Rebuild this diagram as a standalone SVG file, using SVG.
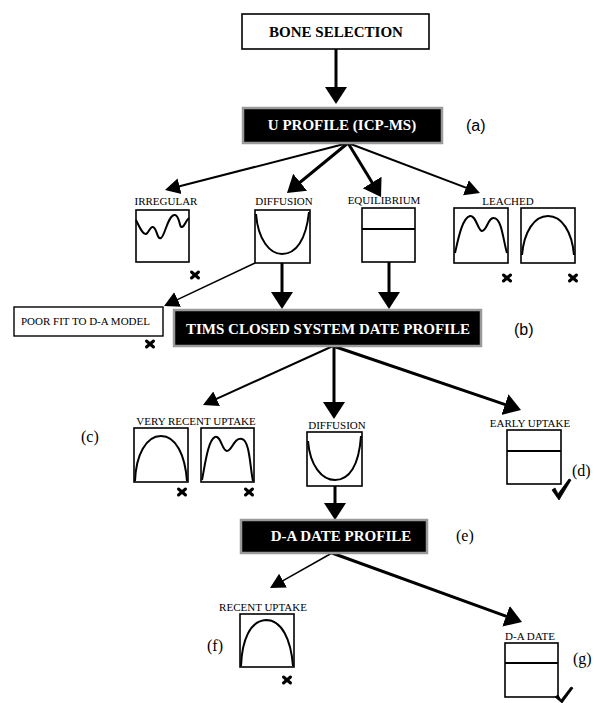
<svg xmlns="http://www.w3.org/2000/svg" width="594" height="703" viewBox="0 0 594 703">
<defs>
<marker id="big" markerUnits="userSpaceOnUse" markerWidth="18" markerHeight="24" viewBox="0 -12 18 24" refX="2" refY="0" orient="auto"><path d="M0,-11 L17,0 L0,11 Z" fill="#000"/></marker>
<marker id="small" markerUnits="userSpaceOnUse" markerWidth="16" markerHeight="18" viewBox="0 -9 16 18" refX="2" refY="0" orient="auto"><path d="M0,-8 L15,0 L0,8 Z" fill="#000"/></marker>
</defs>
<style>
.wbox{fill:#fff;stroke:#000;stroke-width:1.6}
.bbox{fill:#000;stroke:#9a9a9a;stroke-width:2.5}
.pbox{fill:#fff;stroke:#000;stroke-width:1.4}
.curve{fill:none;stroke:#000;stroke-width:2}
.hl{stroke:#000;stroke-width:2}
.ttl{font-family:"Liberation Serif","Times New Roman",serif;font-weight:bold;font-size:15px;text-anchor:middle}
.lbl{font-family:"Liberation Serif","Times New Roman",serif;font-size:11px;text-anchor:middle;fill:#000}
.tag{font-family:"Liberation Serif","Times New Roman",serif;font-size:16px;fill:#000}
.tags{font-family:"Liberation Sans",Arial,sans-serif;font-size:16px;fill:#000}
.x{stroke:#000;stroke-width:3;stroke-linecap:round}
.chk{fill:#000;stroke:#000;stroke-width:0.8;stroke-linejoin:round}
.c1{fill:none;stroke:#000;stroke-width:1.5}
.c2{fill:none;stroke:#000;stroke-width:2}
.c3{fill:none;stroke:#000;stroke-width:3}
</style>
<rect width="594" height="703" fill="#fff"/>

<g id="connectors">
<line class="c3" x1="336" y1="49" x2="336" y2="89" marker-end="url(#big)"/>
<line class="c2" x1="348" y1="143" x2="177.6" y2="186.8" marker-end="url(#small)"/>
<line class="c3" x1="348" y1="143" x2="298.6" y2="183.5" marker-end="url(#big)"/>
<line class="c3" x1="348" y1="143" x2="373.2" y2="184.2" marker-end="url(#big)"/>
<line class="c2" x1="348" y1="143" x2="467.8" y2="188.4" marker-end="url(#small)"/>
<line class="c3" x1="282" y1="263" x2="282" y2="294" marker-end="url(#big)"/>
<line class="c3" x1="389" y1="262" x2="389" y2="294" marker-end="url(#big)"/>
<line class="c1" x1="255" y1="263" x2="175.8" y2="300.4" marker-end="url(#small)"/>
<line class="c2" x1="333" y1="346" x2="214.8" y2="399.6" marker-end="url(#small)"/>
<line class="c3" x1="334" y1="346" x2="334" y2="404" marker-end="url(#big)"/>
<line class="c3" x1="333" y1="346" x2="506.8" y2="405.2" marker-end="url(#big)"/>
<line class="c3" x1="335" y1="486" x2="335" y2="505" marker-end="url(#big)"/>
<line class="c1" x1="332" y1="553" x2="281.3" y2="581.6" marker-end="url(#small)"/>
<line class="c3" x1="332" y1="553" x2="507.9" y2="616.9" marker-end="url(#big)"/>
</g>

<g id="bone-selection">
<rect class="wbox" x="242" y="14" width="187" height="35"/>
<text class="ttl" x="336" y="37">BONE SELECTION</text>
</g>

<g id="u-profile">
<rect class="bbox" x="243" y="108" width="199" height="35"/>
<text class="ttl" x="342" y="130" fill="#fff">U PROFILE (ICP-MS)</text>
<text class="tags" x="466" y="131">(a)</text>
</g>

<g id="irregular">
<text class="lbl" x="166" y="205">IRREGULAR</text>
<rect class="wbox" x="136" y="210" width="53" height="52"/>
<path class="curve" d="M136,220 C140,228 143,235 146,234 C149,233 150,226 153,227 C157,228 157,240 161,238 C165,236 168,214 175,215 C180,216 179,228 182,227 C185,226 186,220 189,218"/>
<g transform="translate(195,275)"><line class="x" x1="-3.5" y1="-3" x2="3.5" y2="3"/><line class="x" x1="3.5" y1="-3" x2="-3.5" y2="3"/></g>
</g>

<g id="diffusion-1">
<text class="lbl" x="284" y="205">DIFFUSION</text>
<rect class="wbox" x="255" y="210" width="55" height="53"/>
<path class="curve" d="M256,214 C258,240 270,254 282,254 C296,254 306,240 309,212"/>
</g>

<g id="equilibrium-1">
<text class="lbl" x="384" y="204">EQUILIBRIUM</text>
<rect class="wbox" x="362" y="208" width="53" height="54"/>
<line class="hl" x1="362" y1="229" x2="415" y2="229"/>
</g>

<g id="leached">
<text class="lbl" x="508" y="205">LEACHED</text>
<rect class="wbox" x="454" y="208" width="54" height="55"/>
<path class="curve" d="M455,253 C458,240 462,218 470,216 C476,215 478,231 482,231 C487,231 488,217 494,218 C502,219 503,240 507,253"/>
<rect class="wbox" x="521" y="208" width="54" height="55"/>
<path class="curve" d="M522,255 C524,232 534,216 548,216 C562,216 572,232 574,255"/>
<g transform="translate(507,278)"><line class="x" x1="-3.5" y1="-3" x2="3.5" y2="3"/><line class="x" x1="3.5" y1="-3" x2="-3.5" y2="3"/></g>
<g transform="translate(573,278)"><line class="x" x1="-3.5" y1="-3" x2="3.5" y2="3"/><line class="x" x1="3.5" y1="-3" x2="-3.5" y2="3"/></g>
</g>

<g id="poor-fit">
<rect class="pbox" x="14" y="307" width="149" height="29"/>
<text class="lbl" x="21" y="325" style="text-anchor:start">POOR FIT TO D-A MODEL</text>
<g transform="translate(150,344)"><line class="x" x1="-3.5" y1="-3" x2="3.5" y2="3"/><line class="x" x1="3.5" y1="-3" x2="-3.5" y2="3"/></g>
</g>

<g id="tims">
<rect class="bbox" x="174" y="310" width="307" height="36"/>
<text class="ttl" x="328" y="334" fill="#fff">TIMS CLOSED SYSTEM DATE PROFILE</text>
<text class="tags" x="514" y="335">(b)</text>
</g>

<g id="very-recent-uptake">
<text class="tag" x="81" y="442">(c)</text>
<text class="lbl" x="196" y="425">VERY RECENT UPTAKE</text>
<rect class="wbox" x="134" y="428" width="54" height="54"/>
<path class="curve" d="M135,481 C136,455 146,436 161,436 C176,436 185,455 187,481"/>
<rect class="wbox" x="201" y="428" width="53" height="54"/>
<path class="curve" d="M202,480 C205,465 208,440 215,437 C221,435 222,451 227,451 C232,451 234,437 242,439 C250,441 250,468 253,481"/>
<g transform="translate(182,492)"><line class="x" x1="-3.5" y1="-3" x2="3.5" y2="3"/><line class="x" x1="3.5" y1="-3" x2="-3.5" y2="3"/></g>
<g transform="translate(249,492)"><line class="x" x1="-3.5" y1="-3" x2="3.5" y2="3"/><line class="x" x1="3.5" y1="-3" x2="-3.5" y2="3"/></g>
</g>

<g id="diffusion-2">
<text class="lbl" x="337" y="429">DIFFUSION</text>
<rect class="wbox" x="307" y="432" width="55" height="54"/>
<path class="curve" d="M308,441 C310,466 322,480 335,480 C349,480 359,466 361,436"/>
</g>

<g id="early-uptake">
<text class="lbl" x="530" y="427">EARLY UPTAKE</text>
<rect class="wbox" x="507" y="430" width="54" height="54"/>
<line class="hl" x1="507" y1="451" x2="561" y2="451"/>
<text class="tag" x="572" y="476">(d)</text>
<path class="chk" d="M552,490 L555,488 L558,494 L569,479 L571,480 L559,500 Z"/>
</g>

<g id="da-date-profile">
<rect class="bbox" x="241" y="520" width="186" height="33"/>
<text class="ttl" x="341" y="541" fill="#fff">D-A DATE PROFILE</text>
<text class="tag" x="456" y="541">(e)</text>
</g>

<g id="recent-uptake">
<text class="lbl" x="263" y="611">RECENT UPTAKE</text>
<rect class="wbox" x="240" y="614" width="54" height="53"/>
<path class="curve" d="M241,666 C242,640 250,621 266,620 C282,620 291,640 293,666"/>
<text class="tag" x="207" y="651">(f)</text>
<g transform="translate(287,680)"><line class="x" x1="-3.5" y1="-3" x2="3.5" y2="3"/><line class="x" x1="3.5" y1="-3" x2="-3.5" y2="3"/></g>
</g>

<g id="da-date">
<text class="lbl" x="530" y="640">D-A DATE</text>
<rect class="wbox" x="505" y="643" width="53" height="54"/>
<line class="hl" x1="505" y1="663" x2="558" y2="663"/>
<text class="tag" x="573" y="664">(g)</text>
<path class="chk" d="M555,697 L558,695 L561,700 L571,687 L573,688 L562,703 Z"/>
</g>
</svg>
